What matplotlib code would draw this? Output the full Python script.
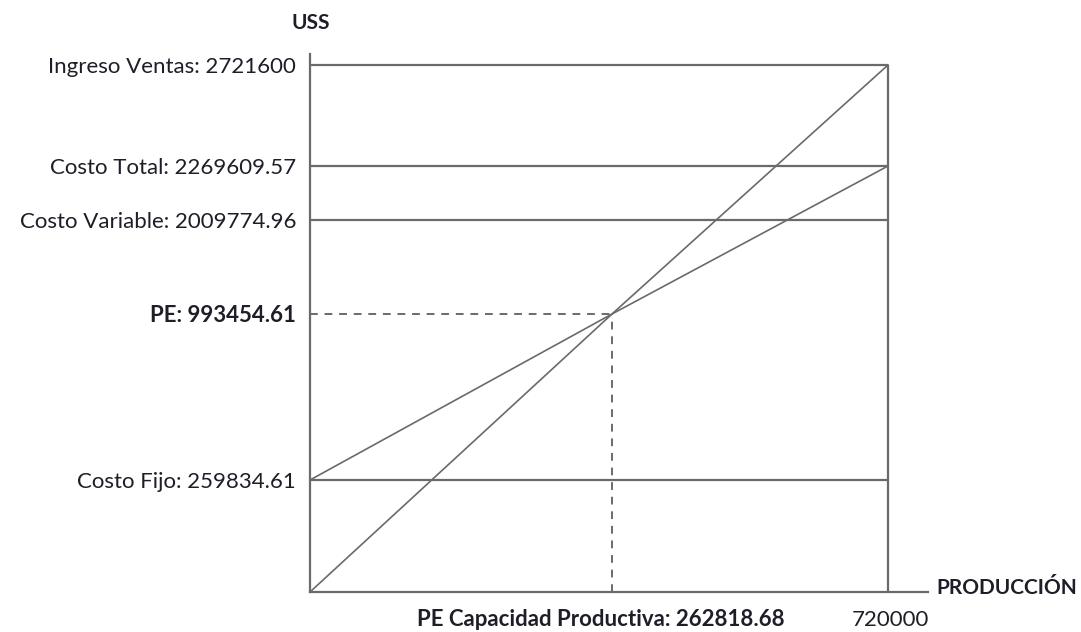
import numpy as np
import matplotlib
matplotlib.use("Agg")
import matplotlib.pyplot as plt

# Break-even data (USS vs units produced)
capacidad = 720000
pe_unidades = 262818.68
ingreso_ventas = 2721600
costo_total = 2269609.57
costo_variable = 2009774.96
costo_fijo = 259834.61
pe_valor = 993454.61

y_labels = ["Ingreso Ventas: 2721600", "Costo Total: 2269609.57",
            "Costo Variable: 2009774.96", "PE: 993454.61", "Costo Fijo: 259834.61"]
x_labels = ["PE Capacidad Productiva: 262818.68", "720000"]

# Schematic (non-proportional) axis layout: value knots -> axis length
x_knots = [0, pe_unidades, capacidad]
x_span = [0, 302, 578]
y_knots = [0, costo_fijo, pe_valor, costo_variable, costo_total, ingreso_ventas]
y_span = [0, 112, 278, 372, 426, 527]


def piecewise(knots, span):
    k = np.asarray(knots, float)
    p = np.asarray(span, float)

    def _map(v, a, b):
        v = np.asarray(v, float)
        out = np.interp(v, a, b)
        hi = (b[-1] - b[-2]) / (a[-1] - a[-2])
        lo = (b[1] - b[0]) / (a[1] - a[0])
        out = np.where(v > a[-1], b[-1] + (v - a[-1]) * hi, out)
        out = np.where(v < a[0], b[0] + (v - a[0]) * lo, out)
        return out

    return (lambda v: _map(v, k, p)), (lambda u: _map(u, p, k))


fx, ix = piecewise(x_knots, x_span)
fy, iy = piecewise(y_knots, y_span)

plt.rcParams["font.family"] = ["Lato", "DejaVu Sans"]
W, H = 1081, 632
fig = plt.figure(figsize=(W / 100, H / 100), dpi=100)
ax = fig.add_axes([310 / W, 40 / H, 618 / W, 538 / H])
ax.set_xscale("function", functions=(fx, ix))
ax.set_yscale("function", functions=(fy, iy))
ax.set_xlim(0, float(ix(618)))
ax.set_ylim(0, float(iy(538)))

line_col = "#6a6a6a"
txt_col = "#1e1e28"
lw = 1.6

for s in ["top", "right"]:
    ax.spines[s].set_visible(False)
for s in ["left", "bottom"]:
    ax.spines[s].set_color(line_col)
    ax.spines[s].set_linewidth(lw)

kw = dict(color=line_col, lw=lw, clip_on=False, solid_capstyle="butt")
# Horizontal reference levels
for v in [ingreso_ventas, costo_total, costo_variable, costo_fijo]:
    ax.plot([0, capacidad], [v, v], **kw)
# Capacity limit
ax.plot([capacidad, capacidad], [0, ingreso_ventas], **kw)
# Revenue and total cost lines, crossing at the break-even point
ax.plot([0, pe_unidades, capacidad], [0, pe_valor, ingreso_ventas],
        color=line_col, lw=1.2, clip_on=False)
ax.plot([0, pe_unidades, capacidad], [costo_fijo, pe_valor, costo_total],
        color=line_col, lw=1.2, clip_on=False)
# Break-even guides
dash = dict(color=line_col, lw=1.4, ls=(0, (4, 3.5)), clip_on=False)
ax.plot([0, pe_unidades], [pe_valor, pe_valor], **dash)
ax.plot([pe_unidades, pe_unidades], [0, pe_valor], **dash)

fs = 16
ax.set_yticks([ingreso_ventas, costo_total, costo_variable, pe_valor, costo_fijo])
ax.set_yticklabels(y_labels, fontsize=fs, color=txt_col)
ax.get_yticklabels()[3].set_fontweight("bold")
ax.tick_params(axis="y", length=0, pad=10)
ax.set_xticks([])
ax.minorticks_off()

# Production axis labels below the break-even guide and capacity limit
ax.annotate(x_labels[0], xy=(pe_unidades, 0), xytext=(-11, -28),
            textcoords="offset pixels", ha="center", va="center",
            fontsize=fs, fontweight="bold", color=txt_col, annotation_clip=False)
ax.annotate(x_labels[1], xy=(capacidad, 0), xytext=(2, -28),
            textcoords="offset pixels", ha="center", va="center",
            fontsize=fs, color=txt_col, annotation_clip=False)

fig.text(311 / W, 1 - 23 / H, "USS", ha="center", va="center",
         fontsize=15, fontweight="bold", color=txt_col)
fig.text(1077 / W, 1 - 588 / H, "PRODUCCIÓN", ha="right", va="center",
         fontsize=15, fontweight="bold", color=txt_col)

fig.savefig("out.png", dpi=100, facecolor="white")
